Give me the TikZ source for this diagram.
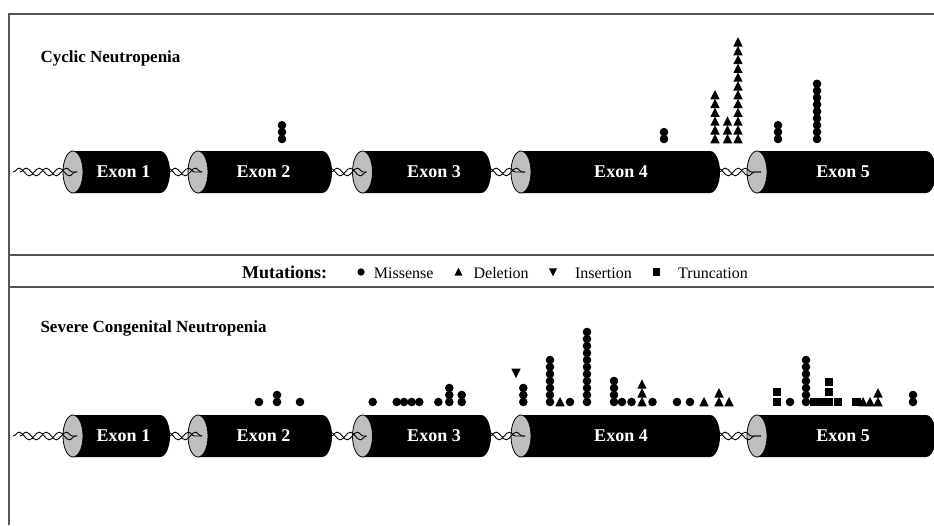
\documentclass[tikz,border=0pt]{standalone}
\usepackage{fontspec}
\setmainfont{Liberation Serif}
\usetikzlibrary{decorations.pathmorphing}
\definecolor{facegray}{RGB}{190,190,190}
\definecolor{rulegray}{RGB}{85,85,85}

\tikzset{
  missense/.pic={\fill (0,0) circle[radius=4.3];},
  deletion/.pic={\fill (-4.7,4.3) -- (4.7,4.3) -- (0,-5) -- cycle;},
  insertion/.pic={\fill (-4.7,-4.3) -- (4.7,-4.3) -- (0,5) -- cycle;},
  truncation/.pic={\fill (-4.3,-4.3) rectangle (4.3,4.3);},
  strand/.style={decorate, decoration={snake, amplitude=3.8, segment length=20}, line width=0.9},
  exonlabel/.style={text=white, font=\bfseries\fontsize{18}{20}\selectfont},
  paneltitle/.style={anchor=base west, font=\bfseries\fontsize{17}{20}\selectfont},
  legendtext/.style={anchor=base west, inner sep=0, font=\fontsize{16}{18}\selectfont},
  framerule/.style={draw=rulegray, line width=1.4},
}

\begin{document}
\begin{tikzpicture}[x=1pt, y=-1pt]
\useasboundingbox (0,0) rectangle (934,525);
% frame and legend bar
\draw[framerule] (9,525) -- (9,14) -- (934,14);
\draw[framerule] (9,255) -- (934,255);
\draw[framerule] (9,287) -- (934,287);

\node[paneltitle] (cn) at (37,62) {Cyclic Neutropenia};
\node[paneltitle] (scn) at (37,332) {Severe Congenital Neutropenia};

% exons of both panels
\foreach \p/\yc in {t/172, b/436} {
  \foreach \i/\xl/\xr/\xt in {1/73/170/123.5, 2/198/332/263.5, 3/362.5/491/434, 4/521/720/621, 5/757/936/843} {
    \fill (\xl,\yc-21) -- (\xr-10,\yc-21) arc[start angle=-90, end angle=90, x radius=10, y radius=21] -- (\xl,\yc+21) -- cycle;
    \filldraw[fill=facegray, draw=black, line width=0.8] (\xl,\yc) ellipse[x radius=10, y radius=21];
    \node[exonlabel] (\p\i) at (\xt,\yc) {Exon \i};
    \coordinate (\p\i-in) at (\xl+4,\yc);
    \coordinate (\p\i-out) at (\xr-1,\yc);
  }
  \coordinate (\p0-out) at (20,\yc);
  \foreach \a/\b in {0/1, 1/2, 2/3, 3/4, 4/5} {
    \draw[strand] (\p\a-out) -- (\p\b-in);
    \draw[strand] ([xshift=-7]\p\a-out) -- (\p\b-in);
  }
}

% legend
\node[anchor=base west, inner sep=0, font=\bfseries\fontsize{18}{20}\selectfont] (mut) at (242,278) {Mutations:};
\pic[scale=0.85] at (361,272) {missense};
\node[legendtext] (mis) at (373.7,278) {Missense};
\pic[scale=0.85] at (458.5,272) {deletion};
\node[legendtext] (del) at (473.4,278) {Deletion};
\pic[scale=0.85] at (553,272) {insertion};
\node[legendtext] (ins) at (574.8,278) {Insertion};
\pic[scale=0.85] at (656.6,272) {truncation};
\node[legendtext] (tru) at (678,278) {Truncation};

% cyclic neutropenia
\foreach \x/\n in {282/3, 664/2, 778/3, 817/9}
  \foreach \k in {1,...,\n} \pic at (\x,{139-(\k-1)*6.9}) {missense};
\foreach \x/\n in {715/6, 727.5/3, 738/12}
  \foreach \k in {1,...,\n} \pic at (\x,{139-(\k-1)*8.8}) {deletion};

% severe congenital neutropenia
\foreach \x/\n in {259/1, 277/2, 300/1, 372.7/1, 396.7/1, 404/1, 411.7/1, 419.3/1, 438.3/1, 449.3/3, 461.7/2,
                   523.3/3, 550/7, 570/1, 587/11, 614/4, 622/1, 631.5/1, 652.5/1, 677/1, 690/1, 790/1, 806/7, 913/2}
  \foreach \k in {1,...,\n} \pic at (\x,{402-(\k-1)*7}) {missense};
\foreach \x/\n in {560/1, 642/3, 704/1, 719/2, 729/1, 863/1, 870/1, 878/2}
  \foreach \k in {1,...,\n} \pic at (\x,{402-(\k-1)*8.8}) {deletion};
\pic at (516,373) {insertion};
\foreach \x/\n in {777/2, 814/1, 821.5/1, 829/3, 838/1, 856.5/1}
  \foreach \k in {1,...,\n} \pic at (\x,{402-(\k-1)*10}) {truncation};
\end{tikzpicture}
\end{document}
